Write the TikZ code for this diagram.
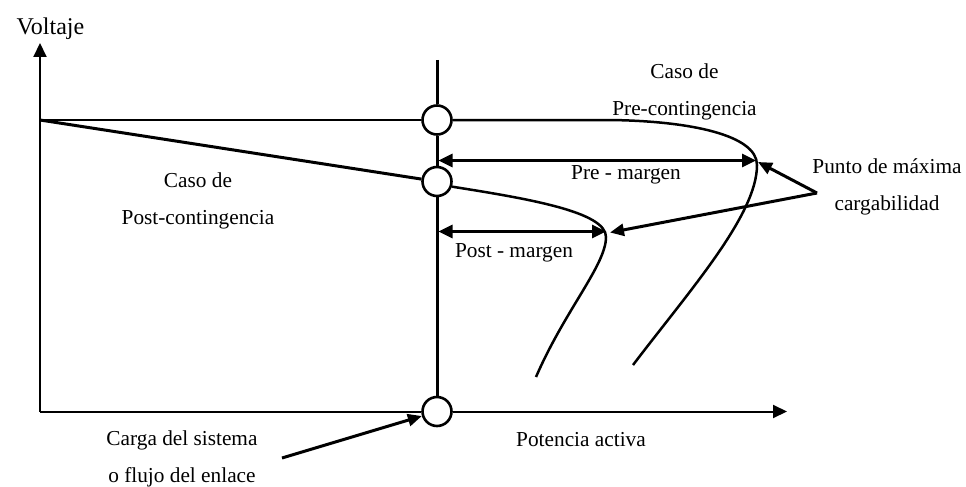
\documentclass[tikz,border=0pt]{standalone}
\usepackage{fontspec}
\setmainfont{Liberation Serif}
\usetikzlibrary{arrows.meta}
\begin{document}
\begin{tikzpicture}[x=1pt,y=-1pt,
  lbl/.style={font=\fontsize{21.3}{37}\selectfont, inner sep=0pt, anchor=base, align=center},
  axisline/.style={line width=2pt},
  axisarrow/.style={line width=2pt, -{Triangle[length=14pt,width=13pt]}},
  bus/.style={circle, draw, fill=white, line width=2.6pt, minimum size=29pt, inner sep=0pt},
  curve/.style={line width=2.5pt},
  margin/.style={line width=3pt, {Triangle[length=14pt,width=13pt]}-{Triangle[length=14pt,width=13pt]}},
  pointer/.style={line width=3pt, -{Triangle[length=14pt,width=12pt]}},
]
\fill[white] (0,0) rectangle (966,487);
\useasboundingbox (0,0) rectangle (966,487);

% reference points
\coordinate (O) at (40,411.5);
\coordinate (yend) at (40,43);
\coordinate (xend) at (787,411.5);
\coordinate (A) at (40,120);
\coordinate (mtop) at (437,60);
\coordinate (preL) at (438.5,160.5);
\coordinate (premax) at (756,160.5);
\coordinate (postL) at (438.5,231.5);
\coordinate (postmax) at (606,231.5);
\coordinate (pm) at (817,193);
\coordinate (pretip) at (758,162);
\coordinate (posttip) at (610,232.5);
\coordinate (cargaptr) at (282,458);

% operating points on the link-flow line
\node[bus] (c1) at (437,120) {};
\node[bus] (c2) at (437,181.5) {};
\node[bus] (c3) at (437,411.5) {};

% axes
\draw[axisarrow] (O) -- (yend);
\draw[axisline] (O) -- (c3);
\draw[axisarrow] (c3) -- (xend);

% vertical line through the operating points
\draw[line width=3pt] (mtop) -- (c1) (c1) -- (c2) (c2) -- (c3);

% pre-contingency PV curve
\draw[axisline] (A) -- (c1);
\draw[curve] (c1.east) -- (610,120) .. controls (690,121) and (757,135) .. (757,165)
  .. controls (757,215) and (690,290) .. (633,365);

% post-contingency PV curve
\draw[line width=3pt] (A) -- (c2);
\draw[curve] (c2.-19) .. controls (530,199) and (606,212) .. (606,237)
  .. controls (606,265) and (565,310) .. (536,377);

% margins
\draw[margin] (preL) -- (premax);
\draw[margin] (postL) -- (postmax);

% pointers
\draw[pointer] (pm) -- (pretip);
\draw[pointer] (pm) -- (posttip);
\draw[pointer] (cargaptr) -- (c3);

% labels (base anchor = baseline of the last line)
\node[lbl, font=\fontsize{24}{37}\selectfont] (vlab) at (50.5,35) {Voltaje};
\node[lbl] (prelab) at (684.5,115) {Caso de\\Pre-contingencia};
\node[lbl] (postlab) at (198,224) {Caso de\\Post-contingencia};
\node[lbl] (premlab) at (626,179) {Pre - margen};
\node[lbl] (postmlab) at (514,257) {Post - margen};
\node[lbl] (pmlab) at (887,210) {Punto de máxima\\cargabilidad};
\node[lbl] (cargalab) at (182,482) {Carga del sistema\\o flujo del enlace};
\node[lbl] (plab) at (581,446) {Potencia activa};
\end{tikzpicture}
\end{document}
